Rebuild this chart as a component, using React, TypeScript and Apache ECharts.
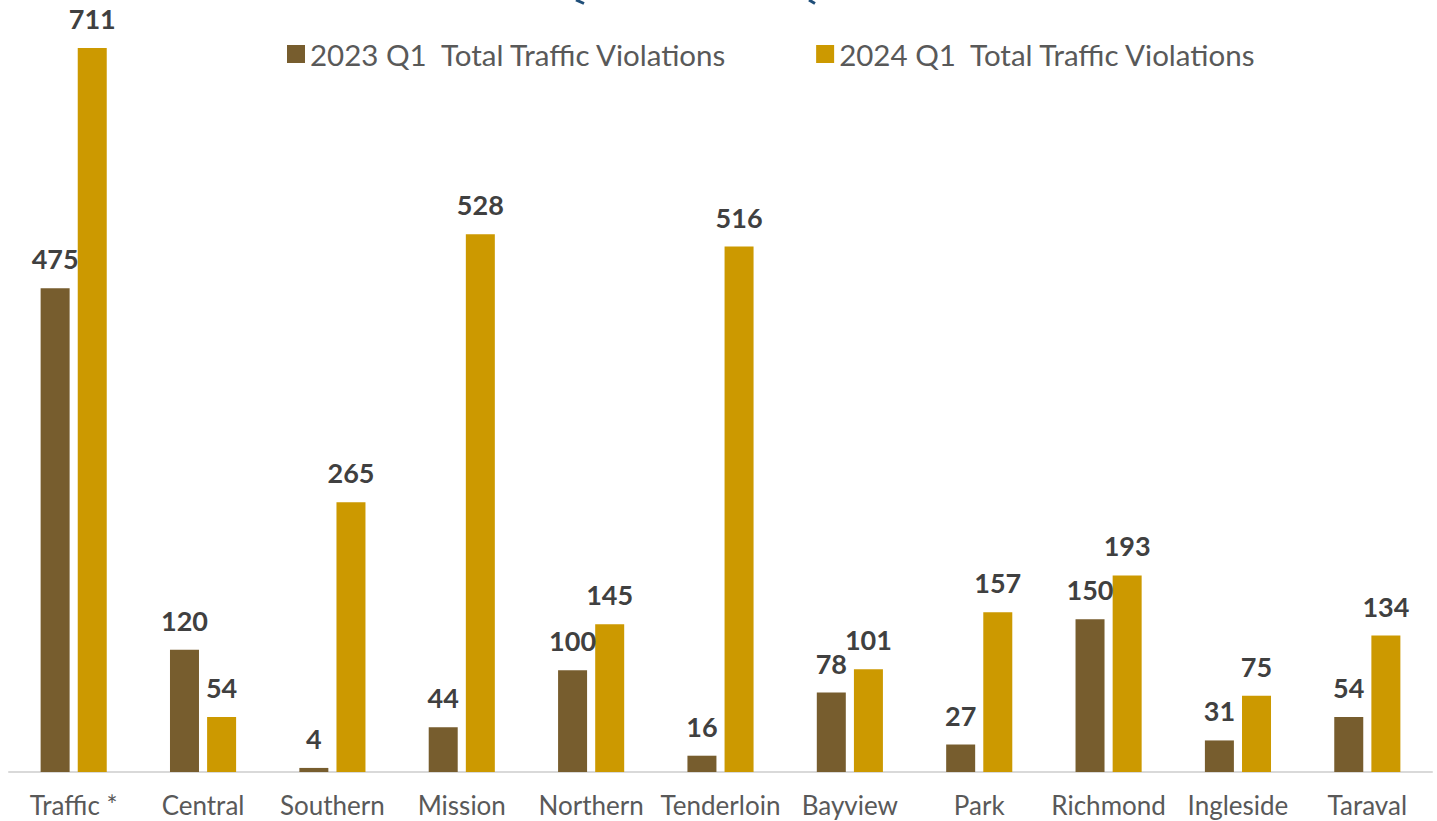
import React, { useEffect, useRef } from "react";
import * as echarts from "echarts";

const categories = ["Traffic *", "Central", "Southern", "Mission", "Northern", "Tenderloin", "Bayview", "Park", "Richmond", "Ingleside", "Taraval"];
const series2023 = [475, 120, 4, 44, 100, 16, 78, 27, 150, 31, 54];
const series2024 = [711, 54, 265, 528, 145, 516, 101, 157, 193, 75, 134];
const seriesNames = ["2023 Q1  Total Traffic Violations", "2024 Q1  Total Traffic Violations"];

const FONT = "Lato, 'Open Sans', sans-serif";

export default function App() {
  const ref = useRef<HTMLDivElement>(null);
  useEffect(() => {
    document.body.style.margin = "0";
    const chart = echarts.init(ref.current!, null, { renderer: "svg" });
    const label = {
      show: true,
      position: "top",
      distance: 16,
      color: "#404040",
      fontSize: 27,
      fontWeight: "bold",
      fontFamily: FONT,
    };
    chart.setOption({
      animation: false,
      backgroundColor: "#ffffff",
      graphic: [
        { type: "line", shape: { x1: 576, y1: 0, x2: 584, y2: 3.5 }, style: { stroke: "#1F4E79", lineWidth: 3 } },
        { type: "line", shape: { x1: 809, y1: 0, x2: 815, y2: 3.5 }, style: { stroke: "#1F4E79", lineWidth: 3 } },
      ],
      legend: {
        top: 34,
        left: 282,
        itemWidth: 18,
        itemHeight: 18,
        itemGap: 88,
        icon: "rect",
        textStyle: { color: "#595959", fontSize: 29.5, fontFamily: FONT },
        data: seriesNames,
      },
      grid: { left: 9, right: 5, top: 48, bottom: 49, containLabel: false },
      xAxis: {
        type: "category",
        data: categories,
        axisLine: { lineStyle: { color: "#D9D9D9", width: 2 } },
        axisTick: { show: false },
        axisLabel: { color: "#595959", fontSize: 26, fontFamily: FONT, margin: 20, interval: 0 },
      },
      yAxis: {
        type: "value",
        min: 0,
        max: 711,
        show: false,
        splitLine: { show: false },
      },
      series: [
        {
          name: seriesNames[0],
          type: "bar",
          data: series2023,
          barWidth: 29,
          barGap: "28%",
          itemStyle: { color: "#775D2E" },
          label,
        },
        {
          name: seriesNames[1],
          type: "bar",
          data: series2024,
          barWidth: 29,
          itemStyle: { color: "#CC9900" },
          label,
        },
      ],
    });
    return () => chart.dispose();
  }, []);
  return <div ref={ref} style={{ width: 1437, height: 821 }} />;
}
